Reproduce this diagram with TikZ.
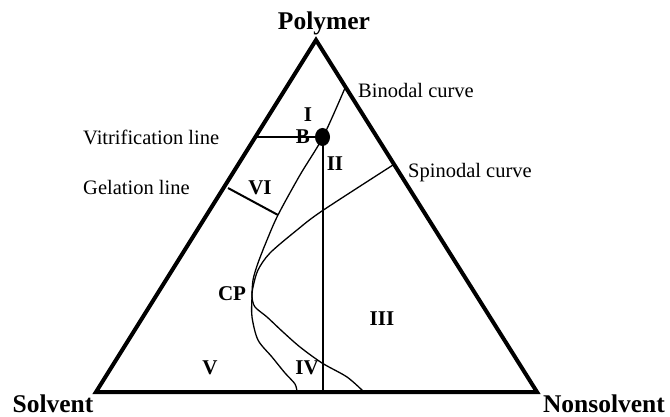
\documentclass[tikz,border=0pt]{standalone}
\usepackage{fontspec}
\usetikzlibrary{shapes.geometric}
\setmainfont{Liberation Serif}
\begin{document}
\begin{tikzpicture}[x=1pt,y=-1pt,
  big/.style={font=\fontsize{25.5}{30}\selectfont\bfseries, inner sep=0pt, anchor=base},
  region/.style={font=\fontsize{21}{24}\selectfont\bfseries, inner sep=0pt, anchor=base},
  lbl/.style={font=\fontsize{20.5}{24}\selectfont, inner sep=0pt, anchor=base west},
  thin/.style={line width=1.3pt},
  med/.style={line width=2pt}]
\useasboundingbox (0,0) rectangle (670,417);
% corners
\coordinate (P) at (316,40);
\coordinate (S) at (96,392);
\coordinate (N) at (537,392);
\draw[line width=4pt, line join=miter] (P) -- (S) -- (N) -- cycle;
% binodal curve
\draw[thin] plot[smooth, tension=0.5] coordinates {(345,88) (323,137) (300,175) (278,215) (267,240) (258,263) (253,280) (252,297) (252,317) (258,340) (272,357) (285,373) (295,384) (297,392)};
% spinodal curve
\draw[thin] plot[smooth, tension=0.5] coordinates {(393,165) (322,211) (297,230) (270,253) (258,270) (253,287) (252,297) (255,307) (267,317) (283,332) (300,347) (322,363) (347,377) (364,392)};
% point B and lines
\node[ellipse, fill=black, minimum width=15pt, minimum height=18pt, inner sep=0pt] (dot) at (322.5,137) {};
\coordinate (vl) at (254,137);
\coordinate (vb) at (322.5,392);
\draw[med] (vl) -- (dot.center);
\draw[med] (dot.center) -- (vb);
\coordinate (g1) at (228,188);
\coordinate (g2) at (278,215);
\draw[med] (g1) -- (g2);
% big labels
\node[big] (tP) at (324,30) {Polymer};
\node[big] (tS) at (53,412) {Solvent};
\node[big] (tN) at (604,412) {Nonsolvent};
% side labels
\node[lbl] (bin) at (358,98) {Binodal curve};
\node[lbl] (spin) at (408,178) {Spinodal curve};
\node[lbl] (vit) at (83,145) {Vitrification line};
\node[lbl] (gel) at (83,195) {Gelation line};
% region labels
\node[region] (rI) at (308,122) {I};
\node[region] (rB) at (303,144) {B};
\node[region] (rII) at (335,171) {II};
\node[region] (rVI) at (260,195) {VI};
\node[region] (rCP) at (232,300) {CP};
\node[region] (rIII) at (382,325) {III};
\node[region] (rIV) at (307,374) {IV};
\node[region] (rV) at (210,374) {V};
\end{tikzpicture}
\end{document}
